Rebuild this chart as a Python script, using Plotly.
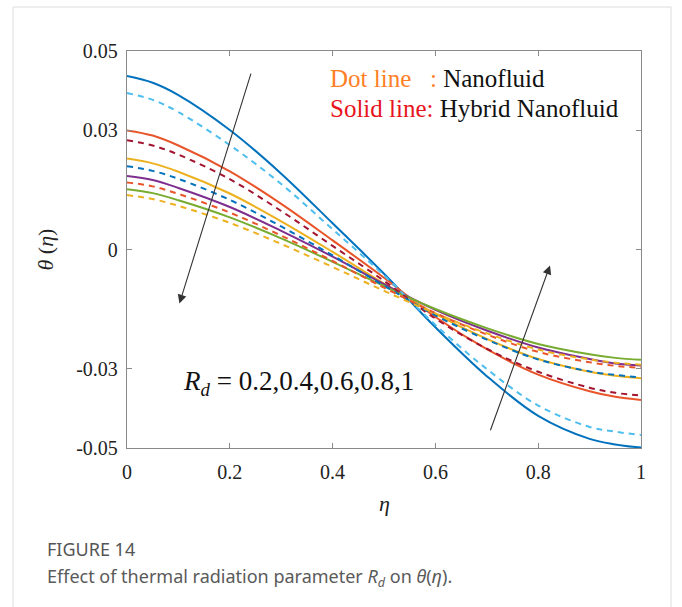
import plotly.graph_objects as go

# ---------------- data ----------------
eta = [0.0, 0.05, 0.1, 0.2, 0.3, 0.4, 0.5, 0.6, 0.7, 0.8, 0.9, 0.95, 1.0]

# Solid lines: Hybrid nanofluid, Rd = 0.2, 0.4, 0.6, 0.8, 1
hyb_rd02 = [0.0437, 0.0420, 0.0389, 0.0301, 0.0191, 0.0066, -0.0061, -0.0196, -0.0319, -0.0419, -0.0477, -0.0491, -0.0499]
hyb_rd04 = [0.0300, 0.0287, 0.0262, 0.0197, 0.0115, 0.0023, -0.0071, -0.0170, -0.0251, -0.0315, -0.0357, -0.0371, -0.0379]
hyb_rd06 = [0.0229, 0.0217, 0.0196, 0.0141, 0.0071, -0.0006, -0.0086, -0.0162, -0.0225, -0.0276, -0.0308, -0.0318, -0.0324]
hyb_rd08 = [0.0185, 0.0175, 0.0155, 0.0107, 0.0047, -0.0018, -0.0087, -0.0152, -0.0204, -0.0247, -0.0276, -0.0287, -0.0292]
hyb_rd10 = [0.0152, 0.0142, 0.0124, 0.0081, 0.0028, -0.0031, -0.0092, -0.0150, -0.0198, -0.0238, -0.0264, -0.0273, -0.0278]

# Dashed lines: Nanofluid, Rd = 0.2, 0.4, 0.6, 0.8, 1
nf_rd02 = [0.0394, 0.0377, 0.0346, 0.0263, 0.0165, 0.0051, -0.0065, -0.0190, -0.0301, -0.0393, -0.0447, -0.0459, -0.0467]
nf_rd04 = [0.0275, 0.0262, 0.0239, 0.0177, 0.0097, 0.0009, -0.0079, -0.0174, -0.0250, -0.0308, -0.0348, -0.0361, -0.0368]
nf_rd06 = [0.0210, 0.0198, 0.0178, 0.0125, 0.0058, -0.0015, -0.0091, -0.0166, -0.0227, -0.0277, -0.0307, -0.0316, -0.0322]
nf_rd08 = [0.0169, 0.0159, 0.0140, 0.0093, 0.0035, -0.0029, -0.0096, -0.0160, -0.0214, -0.0258, -0.0284, -0.0293, -0.0298]
nf_rd10 = [0.0137, 0.0127, 0.0110, 0.0067, 0.0014, -0.0044, -0.0104, -0.0161, -0.0211, -0.0252, -0.0277, -0.0285, -0.0290]

solid_series = [hyb_rd02, hyb_rd04, hyb_rd06, hyb_rd08, hyb_rd10]
solid_colors = ["#0072BD", "#E8552A", "#EDB120", "#7E2F8E", "#77AC30"]
dash_series = [nf_rd02, nf_rd04, nf_rd06, nf_rd08, nf_rd10]
dash_colors = ["#4DBEEE", "#A2142F", "#0072BD", "#E8552A", "#EDB120"]

x_ticks = [0, 0.2, 0.4, 0.6, 0.8, 1]
x_ticktext = ["0", "0.2", "0.4", "0.6", "0.8", "1"]
y_ticks = [0.05, 0.03, 0, -0.03, -0.05]
y_ticktext = ["0.05", "0.03", "0", "-0.03", "-0.05"]

SERIF = "Liberation Serif"
SANS = "Noto Sans"

fig = go.Figure()
for ys, c in zip(solid_series, solid_colors):
    fig.add_trace(go.Scatter(x=eta, y=ys, mode="lines",
                             line=dict(color=c, width=2, shape="spline", smoothing=1.0),
                             showlegend=False))
for ys, c in zip(dash_series, dash_colors):
    fig.add_trace(go.Scatter(x=eta, y=ys, mode="lines",
                             line=dict(color=c, width=2, dash="6px,5px", shape="spline", smoothing=1.0),
                             showlegend=False))

L, R, T, B = 127, 41, 51, 159
W, H = 682, 607
PW, PH = W - L - R, H - T - B


def px2paper_x(px):
    return (px - L) / PW


def px2paper_y(py):
    return (H - B - py) / PH


axis_common = dict(showgrid=False, zeroline=False, showline=True, linecolor="#8a8a8a",
                   linewidth=1.3, mirror="ticks", ticks="inside", ticklen=5,
                   tickcolor="#8a8a8a", tickwidth=1,
                   tickfont=dict(family=SERIF, size=20, color="#222"))

fig.update_xaxes(range=[0, 1], tickvals=x_ticks, ticktext=x_ticktext,
                 ticklabelstandoff=6, **axis_common)
fig.update_yaxes(range=[-0.05, 0.05], tickvals=y_ticks, ticktext=y_ticktext,
                 ticklabelstandoff=4, **axis_common)

annotations = [
    # legend text
    dict(x=0.3905, y=0.0431, xref="x", yref="y", xanchor="left", yanchor="middle",
         text="Dot line", showarrow=False,
         font=dict(family=SERIF, size=25, color="#FF7F27")),
    dict(x=0.585, y=0.0431, xref="x", yref="y", xanchor="left", yanchor="middle",
         text="<span style='color:#FF7F27'>:</span> Nanofluid", showarrow=False,
         font=dict(family=SERIF, size=25, color="#111")),
    dict(x=0.3905, y=0.0356, xref="x", yref="y", xanchor="left", yanchor="middle",
         text="<span style='color:#E8141C'>Solid line:</span> Hybrid Nanofluid", showarrow=False,
         font=dict(family=SERIF, size=25, color="#111")),
    # Rd label
    dict(x=0.106, y=-0.0337, xref="x", yref="y", xanchor="left", yanchor="middle",
         text="<i>R</i><sub><i>d</i></sub> = 0.2,0.4,0.6,0.8,1", showarrow=False,
         font=dict(family=SERIF, size=27, color="#111")),
    # arrows
    dict(x=0.102, y=-0.0136, ax=0.242, ay=0.0447, xref="x", yref="y", axref="x", ayref="y",
         text="", showarrow=True, arrowhead=2, arrowsize=1.6, arrowwidth=1.1, arrowcolor="#333"),
    dict(x=0.823, y=-0.0040, ax=0.706, ay=-0.0459, xref="x", yref="y", axref="x", ayref="y",
         text="", showarrow=True, arrowhead=2, arrowsize=1.6, arrowwidth=1.1, arrowcolor="#333"),
    # axis titles
    dict(x=0.5, y=px2paper_y(503), xref="paper", yref="paper", xanchor="center", yanchor="middle",
         text="<i>η</i>", showarrow=False, font=dict(family=SERIF, size=22, color="#222")),
    dict(x=px2paper_x(45), y=0.5, xref="paper", yref="paper", xanchor="center", yanchor="middle",
         text="<i>θ</i> (<i>η</i>)", textangle=-90, showarrow=False,
         font=dict(family=SERIF, size=22, color="#222")),
    # caption
    dict(x=px2paper_x(45), y=px2paper_y(549), xref="paper", yref="paper", xanchor="left",
         yanchor="middle", text="FIGURE 14", showarrow=False,
         font=dict(family=SANS, size=18, color="#555")),
    dict(x=px2paper_x(45), y=px2paper_y(577), xref="paper", yref="paper", xanchor="left",
         yanchor="middle",
         text="Effect of thermal radiation parameter <i>R<sub>d</sub></i> on <i>θ</i>(<i>η</i>).",
         showarrow=False, font=dict(family=SANS, size=18, color="#5a5a5a")),
]

shapes = [
    dict(type="rect", xref="paper", yref="paper",
         x0=px2paper_x(13), x1=px2paper_x(671), y0=px2paper_y(640), y1=px2paper_y(7),
         line=dict(color="#dcdcdc", width=1), fillcolor="rgba(0,0,0,0)", layer="below"),
]

fig.update_layout(width=W, height=H, margin=dict(l=L, r=R, t=T, b=B),
                  paper_bgcolor="white", plot_bgcolor="white",
                  annotations=annotations, shapes=shapes, showlegend=False)

fig.write_html("out.html")
